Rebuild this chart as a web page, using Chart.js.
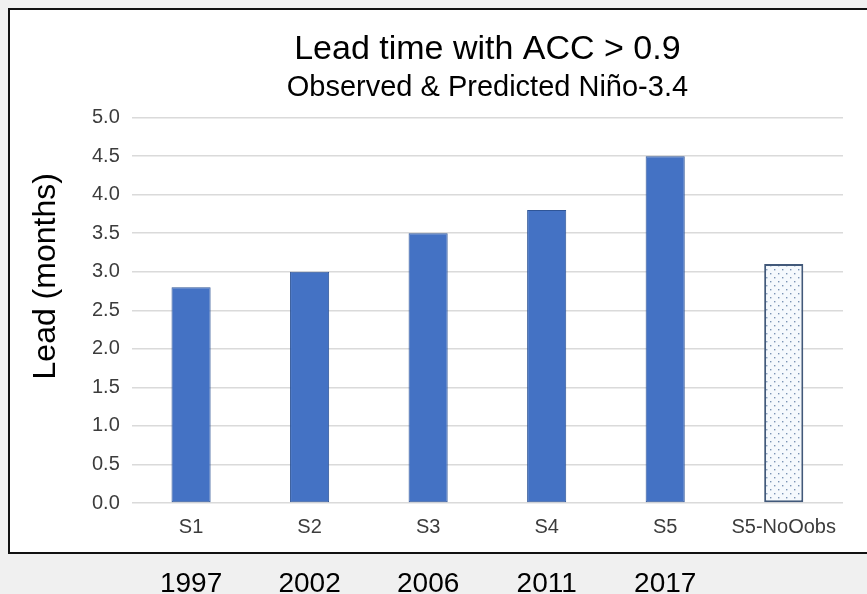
<!DOCTYPE html>
<html>
<head>
<meta charset="utf-8">
<script src="https://cdn.jsdelivr.net/npm/chart.js@4.4.1/dist/chart.umd.min.js"></script>
<style>
  html, body { margin: 0; padding: 0; overflow: hidden; background: #f0f0f0; }
  #frame { position: absolute; left: 8px; top: 8px; width: 880px; height: 542px;
           background: #fff; border: 2px solid #111; border-right: none; }
  #leadChart { position: absolute; left: 0; top: 0; }
</style>
</head>
<body>
<div id="frame"></div>
<canvas id="leadChart" width="867" height="617"></canvas>
<script>
const categories = ['S1', 'S2', 'S3', 'S4', 'S5', 'S5-NoOobs'];
const years = ['1997', '2002', '2006', '2011', '2017', ''];
const leadMonths = [2.8, 3.0, 3.5, 3.8, 4.5, 3.1];
const noObsIndex = 5;
const yTitle = 'Lead (months)';

const FONT = "'Liberation Sans', Arial, Helvetica, sans-serif";

// the axis title sits above the middle of the axis in the original, so draw it by hand
const yTitlePlugin = {
    id: 'yTitle',
    afterDraw(chart) {
        const ctx = chart.ctx;
        const mid = (chart.chartArea.top + chart.chartArea.bottom) / 2;
        ctx.save();
        ctx.translate(46, mid - 34);
        ctx.rotate(-Math.PI / 2);
        ctx.font = '32px ' + FONT;
        ctx.fillStyle = '#000';
        ctx.textAlign = 'center';
        ctx.textBaseline = 'middle';
        ctx.fillText(yTitle, 0, 0);
        ctx.restore();
    }
};

document.addEventListener("DOMContentLoaded", function() {
    // dotted fill for the run without observations
    const tile = document.createElement('canvas');
    tile.width = 8; tile.height = 8;
    const t = tile.getContext('2d');
    t.fillStyle = '#f5f9fd';
    t.fillRect(0, 0, 8, 8);
    t.fillStyle = '#7a93b4';
    t.fillRect(2, 1, 1.4, 1.4);
    t.fillRect(6, 5, 1.4, 1.4);
    const dots = t.createPattern(tile, 'repeat');

    const fills = leadMonths.map((v, i) => i === noObsIndex ? dots : '#4472c4');
    const borders = leadMonths.map((v, i) => i === noObsIndex ? '#42597a' : '#2f5597');
    const widths = leadMonths.map((v, i) => i === noObsIndex ? 2 : 1);

    new Chart(document.getElementById('leadChart').getContext('2d'), {
        type: 'bar',
        data: {
            labels: categories,
            datasets: [{
                label: yTitle,
                data: leadMonths,
                backgroundColor: fills,
                borderColor: borders,
                borderWidth: widths,
                borderSkipped: false,
                categoryPercentage: 1,
                barPercentage: 0.33
            }]
        },
        options: {
            responsive: false,
            animation: false,
            layout: { padding: { left: 80, right: 24, top: 0, bottom: 0 } },
            plugins: {
                legend: { display: false },
                tooltip: { enabled: false },
                title: {
                    display: true,
                    fullSize: false,
                    text: 'Lead time with ACC > 0.9',
                    color: '#000',
                    font: { family: FONT, size: 34, weight: 'normal', lineHeight: 1.2 },
                    padding: { top: 29, bottom: 0 }
                },
                subtitle: {
                    display: true,
                    fullSize: false,
                    text: 'Observed & Predicted Niño-3.4',
                    color: '#000',
                    font: { family: FONT, size: 29, weight: 'normal', lineHeight: 1.2 },
                    padding: { top: 1, bottom: 12 }
                }
            },
            scales: {
                y: {
                    min: 0,
                    max: 5,
                    ticks: {
                        stepSize: 0.5,
                        padding: 12,
                        color: '#3c3c3c',
                        font: { family: FONT, size: 20 },
                        callback: v => v.toFixed(1)
                    },
                    grid: { color: '#dadada', lineWidth: 1.5, drawTicks: false },
                    border: { display: false }
                },
                x: {
                    weight: 0,
                    ticks: {
                        padding: 12,
                        color: '#3c3c3c',
                        font: { family: FONT, size: 20 }
                    },
                    grid: { display: false, drawTicks: false },
                    border: { display: false }
                },
                x2: {
                    type: 'category',
                    position: 'bottom',
                    weight: 1,
                    labels: years,
                    ticks: {
                        padding: 19,
                        color: '#000',
                        font: { family: FONT, size: 28, lineHeight: 1 }
                    },
                    grid: { display: false, drawTicks: false },
                    border: { display: false }
                }
            }
        },
        plugins: [yTitlePlugin]
    });
});
</script>
</body>
</html>
